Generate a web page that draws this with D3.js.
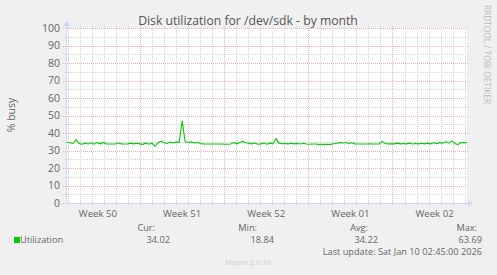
<!DOCTYPE html>
<html>
<head>
<meta charset="utf-8">
<script src="https://cdn.jsdelivr.net/npm/d3@7"></script>
<style>
  body { margin: 0; background: #f0f0f0; }
  svg { display: block; font-family: "Open Sans", sans-serif; }
</style>
</head>
<body>
<div id="chart"></div>
<script>
// time window shown on the graph (local time)
let startTime = new Date(2025, 11, 7, 22, 15);
let endTime = new Date(2026, 0, 10, 4, 45);

// % busy, one reading every ~6 hours
let utilization = [
  34.6, 34.4, 34.0, 36.2, 34.0, 33.6, 34.2, 33.7, 34.4, 33.6,
  34.5, 33.8, 34.6, 33.8, 33.7, 33.7, 33.7, 34.3, 33.8, 33.7,
  33.7, 34.2, 33.8, 34.1, 33.8, 33.5, 34.2, 33.6, 34.3, 32.4,
  34.3, 35.4, 34.4, 34.0, 34.8, 34.3, 34.9, 34.5, 47.0, 35.0,
  34.6, 34.9, 34.3, 34.6, 34.0, 33.8, 33.7, 33.7, 33.7, 33.7,
  33.7, 33.7, 33.6, 33.6, 33.7, 34.5, 33.8, 34.6, 35.2, 34.4,
  34.2, 33.8, 34.3, 33.6, 33.8, 34.3, 33.6, 34.2, 33.9, 36.8,
  34.2, 33.9, 34.0, 33.8, 34.1, 33.8, 34.0, 33.7, 34.1, 33.7,
  33.6, 33.7, 33.7, 33.5, 33.5, 33.5, 33.5, 33.5, 33.9, 34.1,
  34.5, 34.3, 34.6, 34.0, 34.4, 33.8, 33.7, 33.7, 33.7, 33.7,
  33.8, 33.7, 33.7, 33.8, 35.2, 34.0, 33.8, 33.8, 33.8, 34.2,
  33.8, 34.0, 33.8, 34.2, 33.7, 34.0, 33.8, 34.1, 33.8, 34.2,
  33.8, 34.4, 33.9, 34.5, 34.2, 35.1, 34.2, 35.5, 34.0, 33.3,
  34.6, 34.5, 34.3
];

let yTicks = [0, 10, 20, 30, 40, 50, 60, 70, 80, 90, 100];
let legendHeads = ["Cur:", "Min:", "Avg:", "Max:"];
let legendValues = ["34.02", "18.84", "34.22", "63.69"];
let lastUpdate = "Last update: Sat Jan 10 02:45:00 2026";

let width = 497, height = 275;
let margin = {top: 28, right: 30, bottom: 72, left: 67};
let plotW = width - margin.left - margin.right;   // 400
let plotH = height - margin.top - margin.bottom;  // 175

let svg = d3.select("#chart").append("svg")
  .attr("width", width)
  .attr("height", height);

svg.append("rect").attr("width", width).attr("height", height).attr("fill", "#f0f0f0");

let x = d3.scaleTime().domain([startTime, endTime]).range([margin.left, margin.left + plotW]);
let y = d3.scaleLinear().domain([0, 100]).range([margin.top + plotH, margin.top]);

let step = (endTime - startTime) / (utilization.length - 1);
let series = utilization.map((v, i) => ({t: new Date(+startTime + i * step), v: v}));

svg.append("rect")
  .attr("x", margin.left).attr("y", margin.top)
  .attr("width", plotW).attr("height", plotH)
  .attr("fill", "#ffffff");

let grid = svg.append("g");
let x0 = margin.left - 4, x1 = margin.left + plotW + 2;
let y0 = margin.top - 2, y1 = margin.top + plotH + 2;
let minorColor = "#d2d2d2", majorColor = "#eeb0b0";

// minor horizontal grid every 5
d3.range(5, 100, 10).forEach(function(v) {
  grid.append("line")
    .attr("x1", x0 + 2).attr("x2", x1)
    .attr("y1", Math.round(y(v)) + 0.5).attr("y2", Math.round(y(v)) + 0.5)
    .attr("stroke", minorColor).attr("stroke-dasharray", "1,1");
});

// daily minor vertical grid
x.ticks(d3.timeDay).forEach(function(d) {
  if (d3.timeSunday.floor(d) - d === 0) return;
  grid.append("line")
    .attr("x1", Math.round(x(d)) + 0.5).attr("x2", Math.round(x(d)) + 0.5)
    .attr("y1", y0).attr("y2", y1)
    .attr("stroke", minorColor).attr("stroke-dasharray", "1,1");
});

// major horizontal grid
yTicks.forEach(function(v) {
  grid.append("line")
    .attr("x1", x0).attr("x2", x1)
    .attr("y1", Math.round(y(v)) + 0.5).attr("y2", Math.round(y(v)) + 0.5)
    .attr("stroke", majorColor).attr("stroke-dasharray", "1,1");
});

// weekly major vertical grid (sundays)
let weeks = x.ticks(d3.timeSunday);
weeks.forEach(function(d) {
  grid.append("line")
    .attr("x1", Math.round(x(d)) + 0.5).attr("x2", Math.round(x(d)) + 0.5)
    .attr("y1", y0).attr("y2", y1)
    .attr("stroke", majorColor).attr("stroke-dasharray", "1,1");
});

// axes
let axisColor = "#cfd6f8";
let baseY = Math.round(y(0)) + 0.5;
svg.append("line")
  .attr("x1", margin.left - 0.5).attr("x2", margin.left + plotW + 2)
  .attr("y1", baseY).attr("y2", baseY)
  .attr("stroke", axisColor);
svg.append("line")
  .attr("x1", margin.left - 0.5).attr("x2", margin.left - 0.5)
  .attr("y1", baseY).attr("y2", margin.top - 3)
  .attr("stroke", axisColor);
svg.append("path")
  .attr("d", `M${margin.left + plotW + 1},${baseY - 3.5} L${margin.left + plotW + 6},${baseY} L${margin.left + plotW + 1},${baseY + 3.5} Z`)
  .attr("fill", axisColor);
svg.append("path")
  .attr("d", `M${margin.left - 4},${margin.top - 2} L${margin.left - 0.5},${margin.top - 7} L${margin.left + 3},${margin.top - 2} Z`)
  .attr("fill", axisColor);

// y tick labels
svg.append("g").selectAll("text")
  .data(yTicks).join("text")
  .attr("x", margin.left - 7)
  .attr("y", d => y(d) + 3.6)
  .attr("text-anchor", "end")
  .attr("font-size", 10.5)
  .attr("fill", "#666666")
  .text(d => d);

// week labels centred mid-week
let fmtWeek = d3.timeFormat("%V");
let labelWeeks = [d3.timeSunday.offset(weeks[0], -1)].concat(weeks);
svg.append("g").selectAll("text")
  .data(labelWeeks).join("text")
  .attr("x", d => x(d3.timeHour.offset(d, 84)))
  .attr("y", margin.top + plotH + 14)
  .attr("text-anchor", "middle")
  .attr("font-size", 9.6)
  .attr("fill", "#666666")
  .text(d => "Week " + fmtWeek(d3.timeHour.offset(d, 84)));

// data line
let line = d3.line().x(d => x(d.t)).y(d => y(d.v));
svg.append("path")
  .datum(series)
  .attr("d", line)
  .attr("fill", "none")
  .attr("stroke", "#00cc00")
  .attr("stroke-width", 1.1);

// title
svg.append("text")
  .attr("x", 248).attr("y", 25)
  .attr("text-anchor", "middle")
  .attr("font-size", 12.2)
  .attr("fill", "#555555")
  .text("Disk utilization for /dev/sdk - by month");

// y axis title
svg.append("text")
  .attr("transform", "translate(15,115) rotate(-90)")
  .attr("text-anchor", "middle")
  .attr("font-size", 10.5)
  .attr("fill", "#666666")
  .text("% busy");

// watermark
svg.append("text")
  .attr("transform", "translate(484,5) rotate(90)")
  .attr("text-anchor", "start")
  .attr("font-size", 8.3)
  .attr("fill", "#bbbbbb")
  .text("RRDTOOL / TOBI OETIKER");

// legend
svg.append("rect")
  .attr("x", 14).attr("y", 237).attr("width", 6).attr("height", 6)
  .attr("fill", "#00cc00");
svg.append("text")
  .attr("x", 20).attr("y", 243)
  .attr("font-size", 9.2).attr("fill", "#666666")
  .text("Utilization");

let headEnd = [155, 257, 368, 477];
let valueEnd = [170, 274, 378, 482];
svg.append("g").selectAll("text")
  .data(legendHeads).join("text")
  .attr("x", (d, i) => headEnd[i])
  .attr("y", 231)
  .attr("text-anchor", "end")
  .attr("font-size", 9.2).attr("fill", "#666666")
  .text(d => d);
svg.append("g").selectAll("text")
  .data(legendValues).join("text")
  .attr("x", (d, i) => valueEnd[i])
  .attr("y", 243)
  .attr("text-anchor", "end")
  .attr("font-size", 9.2).attr("fill", "#666666")
  .text(d => d);

svg.append("text")
  .attr("x", 482).attr("y", 254.5)
  .attr("text-anchor", "end")
  .attr("font-size", 9.2).attr("fill", "#666666")
  .text(lastUpdate);

svg.append("text")
  .attr("x", 248).attr("y", 265)
  .attr("text-anchor", "middle")
  .attr("font-size", 7.6).attr("fill", "#cccccc")
  .text("Munin 2.0.76");
</script>
</body>
</html>
